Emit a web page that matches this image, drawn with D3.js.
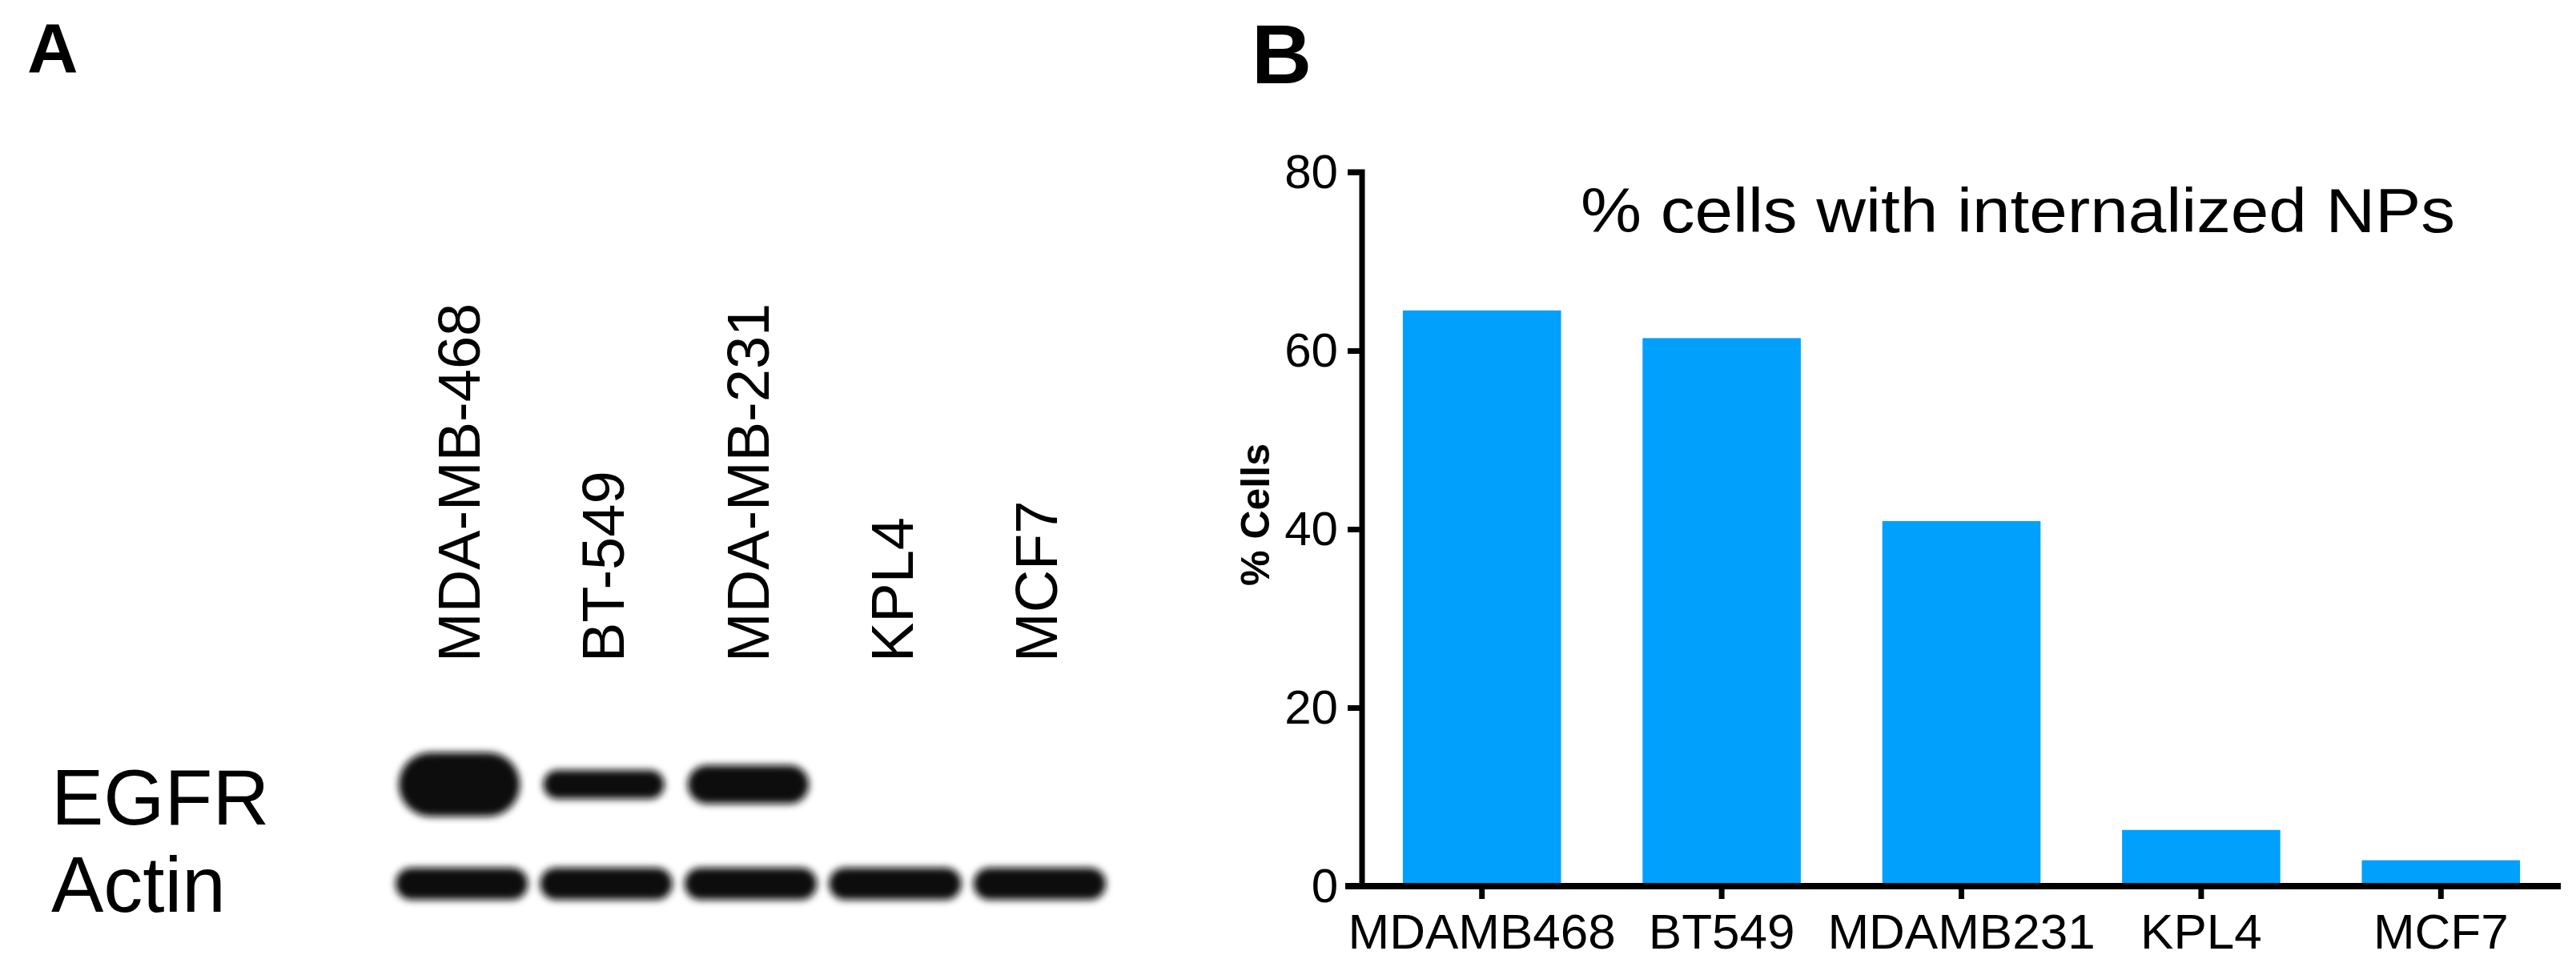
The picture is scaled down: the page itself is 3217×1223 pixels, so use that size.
<!DOCTYPE html>
<html><head><meta charset="utf-8">
<script src="https://cdn.jsdelivr.net/npm/d3@7"></script>
<style>body{margin:0;background:#fff}svg{display:block}text{font-family:Arial,"Liberation Sans",sans-serif}</style>
</head><body>
<script>
// Panel B data
const categories = ["MDAMB468","BT549","MDAMB231","KPL4","MCF7"];
const percentCells = [64.5, 61.4, 40.9, 6.3, 2.9];
const yTicks = [0,20,40,60,80];
// Panel A (western blot) lanes
const lanes = ["MDA-MB-468","BT-549","MDA-MB-231","KPL4","MCF7"];
const egfrIntensity = [1.0, 0.45, 0.6, 0, 0];
const actinIntensity = [1, 1, 1, 1, 1];

const W=3217,H=1223;
const svg=d3.select("body").append("svg").attr("width",W).attr("height",H);
const defs=svg.append("defs");
defs.append("filter").attr("id","blur").attr("x","-20%").attr("y","-50%").attr("width","140%").attr("height","200%")
  .append("feGaussianBlur").attr("stdDeviation",5);

// Panel labels
svg.append("text").attr("x",34).attr("y",90).attr("font-size",88).attr("font-weight","bold").text("A");
svg.append("text").attr("x",1563).attr("y",104).attr("font-size",104).attr("font-weight","bold").text("B");

// ---- Panel A ----
const lx=d3.scaleBand().domain(lanes).range([490,1385]).paddingInner(0.04);
svg.append("g").selectAll("text").data(lanes).join("text")
  .attr("transform",(d,i)=>`translate(${lx(d)+lx.bandwidth()/2+22},827) rotate(-90)`)
  .attr("font-size",74).text(d=>d);
svg.append("text").attr("x",64).attr("y",1030).attr("font-size",98).text("EGFR");
svg.append("text").attr("x",64).attr("y",1139).attr("font-size",98).text("Actin");
const bands=svg.append("g").attr("filter","url(#blur)");
const egfrH=d3.scaleLinear().domain([0,1]).range([0,80]);
bands.selectAll(".eg").data(lanes.map((d,i)=>({d,v:egfrIntensity[i]})).filter(o=>o.v>0)).join("rect")
  .attr("x",o=>lx(o.d)+8).attr("width",lx.bandwidth()-22)
  .attr("y",o=>980-egfrH(o.v)/2).attr("height",o=>egfrH(o.v))
  .attr("rx",o=>egfrH(o.v)/2).attr("fill","#111");
bands.selectAll(".ac").data(lanes.map((d,i)=>({d,v:actinIntensity[i]}))).join("rect")
  .attr("x",o=>lx(o.d)+4).attr("width",lx.bandwidth()-8)
  .attr("y",1084).attr("height",o=>40*o.v).attr("rx",20).attr("fill","#111");

// ---- Panel B ----
const x=d3.scaleBand().domain(categories).range([1701,3198]).paddingInner(0.34).paddingOuter(0.17);
const y=d3.scaleLinear().domain([0,80]).range([1107,215]);
svg.append("g").selectAll("rect").data(categories).join("rect")
  .attr("x",d=>x(d)).attr("width",x.bandwidth())
  .attr("y",(d,i)=>y(percentCells[i])).attr("height",(d,i)=>y(0)-y(percentCells[i]))
  .attr("fill","#00a0fc");
const ya=svg.append("g").attr("transform","translate(1701,0)")
  .call(d3.axisLeft(y).tickValues(yTicks).tickSize(18).tickPadding(12));
ya.select(".domain").attr("stroke-width",7).attr("d","M-18,215H0V1107");
ya.selectAll(".tick line").attr("stroke-width",7);
ya.selectAll(".tick text").attr("font-size",60).attr("fill","#000");
const xa=svg.append("g").attr("transform","translate(0,1107)")
  .call(d3.axisBottom(x).tickSize(16).tickPadding(18));
xa.select(".domain").attr("stroke-width",8).attr("d","M1680,0H3198");
xa.selectAll(".tick line").attr("stroke-width",7);
xa.selectAll(".tick text").attr("font-size",62).attr("fill","#000");
svg.append("text").attr("transform","translate(1585,643) rotate(-90)").attr("text-anchor","middle")
  .attr("font-size",50).attr("font-weight","bold").text("% Cells");
svg.append("text").attr("x",1974).attr("y",290).attr("font-size",78).attr("textLength",1092)
  .attr("lengthAdjust","spacingAndGlyphs").text("% cells with internalized NPs");
</script>
</body></html>
